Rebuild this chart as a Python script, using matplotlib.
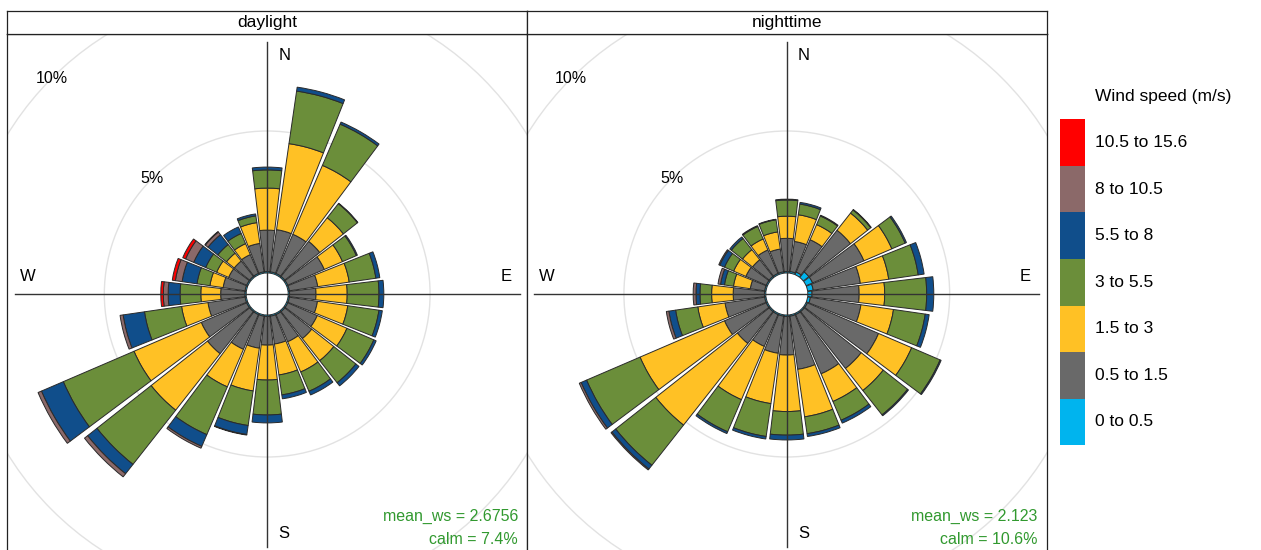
import numpy as np
import matplotlib
matplotlib.use("Agg")
import matplotlib.pyplot as plt
from matplotlib.patches import Wedge, Circle, Rectangle

plt.rcParams['font.family'] = ['Liberation Sans', 'DejaVu Sans']

# wind directions (degrees, clockwise from north), 15 degree sectors
directions = np.arange(0, 360, 15)

speed_labels = ["0 to 0.5", "0.5 to 1.5", "1.5 to 3", "3 to 5.5",
                "5.5 to 8", "8 to 10.5", "10.5 to 15.6"]
speed_colors = ["#00B4EE", "#696969", "#FFC125", "#6B8E3A",
                "#104E8B", "#8B6969", "#FF0000"]

# daylight: frequency (%) per direction for each speed band
day_0_05 = [0.05] * 24
day_05_15 = [1.46, 1.50, 1.50, 1.57, 1.40, 1.01, 0.93, 1.00, 1.13, 1.21, 1.04, 0.99,
             1.01, 1.14, 1.33, 1.89, 1.74, 1.32, 0.85, 0.78, 0.69, 0.69, 0.72, 1.01]
day_15_3 = [1.48, 3.06, 2.64, 1.06, 0.70, 1.12, 1.10, 1.08, 1.14, 0.99, 1.16, 1.10,
            1.23, 1.52, 1.44, 2.53, 2.58, 0.94, 0.70, 0.47, 0.46, 0.35, 0.42, 0.74]
day_3_55 = [0.64, 1.87, 1.58, 0.63, 0.53, 0.95, 1.12, 1.11, 1.03, 0.99, 0.74, 0.71,
            1.23, 1.23, 1.83, 2.43, 2.71, 1.32, 0.73, 0.46, 0.42, 0.39, 0.39, 0.24]
day_55_8 = [0.10, 0.14, 0.08, 0.02, 0.04, 0.14, 0.17, 0.12, 0.09, 0.14, 0.14, 0.14,
            0.28, 0.32, 0.45, 0.42, 0.84, 0.76, 0.42, 0.53, 0.46, 0.44, 0.25, 0.07]
day_8_105 = [0, 0, 0, 0, 0, 0, 0, 0, 0, 0, 0, 0,
             0, 0.02, 0.07, 0.14, 0.13, 0.11, 0.17, 0.24, 0.31, 0.12, 0, 0]
day_105_156 = [0, 0, 0, 0, 0, 0, 0, 0, 0, 0, 0, 0,
               0, 0, 0, 0, 0, 0, 0.09, 0.11, 0.11, 0.02, 0, 0]

# nighttime: frequency (%) per direction for each speed band
night_0_05 = [0.05, 0.06, 0.10, 0.25, 0.25, 0.20, 0.15, 0.10, 0.05, 0.05, 0.05, 0.05,
              0.05, 0.05, 0.05, 0.05, 0.05, 0.05, 0.05, 0.05, 0.05, 0.05, 0.05, 0.05]
night_05_15 = [1.17, 1.07, 1.24, 1.87, 1.97, 1.68, 1.66, 1.80, 2.73, 2.55, 2.27, 1.89,
               1.36, 1.32, 1.22, 1.43, 1.60, 1.41, 1.10, 0.51, 0.78, 0.75, 0.90, 0.81]
night_15_3 = [0.78, 0.95, 0.58, 0.77, 1.07, 1.01, 0.90, 1.16, 1.27, 0.99, 1.06, 1.69,
              1.99, 1.79, 2.04, 3.66, 3.24, 0.97, 0.76, 0.60, 0.47, 0.45, 0.42, 0.61]
night_3_55 = [0.57, 0.38, 0.33, 0.14, 0.51, 1.05, 1.48, 1.13, 1.09, 1.09, 0.72, 0.60,
              0.83, 1.17, 1.23, 1.80, 2.05, 0.79, 0.41, 0.32, 0.35, 0.50, 0.48, 0.43]
night_55_8 = [0.03, 0.06, 0.03, 0.02, 0.05, 0.21, 0.25, 0.14, 0.04, 0.04, 0.11, 0.10,
              0.17, 0.09, 0.07, 0.17, 0.21, 0.24, 0.14, 0.14, 0.18, 0.07, 0.03, 0.02]
night_8_105 = [0, 0, 0, 0, 0, 0, 0, 0, 0, 0, 0, 0,
               0, 0, 0, 0.04, 0.07, 0.09, 0.10, 0.09, 0.04, 0, 0, 0]
night_105_156 = [0] * 24

panel_titles = ["daylight", "nighttime"]
panel_mean_ws = ["2.6756", "2.123"]
panel_calm = ["7.4%", "10.6%"]
grid_levels = [5, 10]

# geometry (pixels of the 1261 x 550 canvas)
W, H = 1261, 550
K = 28.4                 # pixels per percent
OFF = 21.0 / K           # radius of the central hole, in percent units
HALF = 260.0 / K         # half panel width, in percent units
SECTOR = 15 * 0.9        # angular width of a sector bar
EDGE = "#2a2a2a"
STAT_COLOR = "#31992F"

fig = plt.figure(figsize=(W / 100, H / 100), dpi=100)


def fx(x):
    return x / W


def fy(y):
    return 1 - y / H


def draw_rose(ax, bands, title_ax, title, mean_ws, calm):
    ax.set_xlim(-HALF, HALF)
    ax.set_ylim(-HALF, HALF)
    ax.set_xticks([])
    ax.set_yticks([])
    for s in ax.spines.values():
        s.set_linewidth(0.9)
        s.set_color("#222222")

    for g in grid_levels:
        ax.add_patch(Circle((0, 0), OFF + g, fill=False, ec="#E2E2E2", lw=1.0, zorder=1))

    data = np.array(bands, dtype=float)
    for j, d in enumerate(directions):
        base = OFF
        a0 = 90 - d - SECTOR / 2
        a1 = 90 - d + SECTOR / 2
        for b in range(data.shape[0]):
            v = data[b, j]
            if v <= 0:
                continue
            ax.add_patch(Wedge((0, 0), base + v, a0, a1, width=v,
                               fc=speed_colors[b], ec=EDGE, lw=0.7, zorder=3))
            base += v

    L = 252.5 / K
    ax.plot([0, 0], [-L, L], color="#333333", lw=1.0, zorder=5)
    ax.plot([-L, L], [0, 0], color="#333333", lw=1.0, zorder=5)

    fs = 12
    ax.text(17 / K, 239 / K, "N", ha="center", va="center", fontsize=fs, zorder=6)
    ax.text(17 / K, -239 / K, "S", ha="center", va="center", fontsize=fs, zorder=6)
    ax.text(-240 / K, 18 / K, "W", ha="center", va="center", fontsize=fs, zorder=6)
    ax.text(239 / K, 18 / K, "E", ha="center", va="center", fontsize=fs, zorder=6)

    for g in grid_levels:
        r = (OFF + g) * np.sqrt(0.5)
        ax.text(-r, r, f"{g}%", ha="center", va="center", fontsize=11.5, zorder=6)

    ax.text(251 / K, -222 / K, f"mean_ws = {mean_ws}", ha="right", va="center",
            fontsize=11.5, color=STAT_COLOR, zorder=6)
    ax.text(251 / K, -246 / K, f"calm = {calm}", ha="right", va="center",
            fontsize=11.5, color=STAT_COLOR, zorder=6)

    title_ax.set_xticks([])
    title_ax.set_yticks([])
    for s in title_ax.spines.values():
        s.set_linewidth(0.9)
        s.set_color("#222222")
    title_ax.text(0.5, 0.5, title, ha="center", va="center", fontsize=12.5,
                  transform=title_ax.transAxes)


day_bands = [day_0_05, day_05_15, day_15_3, day_3_55, day_55_8, day_8_105, day_105_156]
night_bands = [night_0_05, night_05_15, night_15_3, night_3_55, night_55_8,
               night_8_105, night_105_156]

panel_left = [7.4, 527.0]
panel_w = 519.6
for i, bands in enumerate([day_bands, night_bands]):
    left = panel_left[i]
    ax = fig.add_axes([fx(left), fy(554), panel_w / W, 520 / H])
    tax = fig.add_axes([fx(left), fy(34), panel_w / W, (34 - 10.5) / H])
    draw_rose(ax, bands, tax, panel_titles[i], panel_mean_ws[i], panel_calm[i])

# colour key
fig.text(fx(1095), fy(97), "Wind speed (m/s)", ha="left", va="center", fontsize=12.5)
box_top, box_h = 119.5, 46.5
for k in range(len(speed_labels)):
    idx = len(speed_labels) - 1 - k
    y0 = box_top + k * box_h
    fig.patches.append(Rectangle((fx(1060), fy(y0 + box_h)), 25 / W, box_h / H,
                                 transform=fig.transFigure, fc=speed_colors[idx],
                                 ec="none"))
    fig.text(fx(1095), fy(y0 + box_h / 2), speed_labels[idx], ha="left",
             va="center", fontsize=12.5)

fig.savefig("out.png", dpi=100)
